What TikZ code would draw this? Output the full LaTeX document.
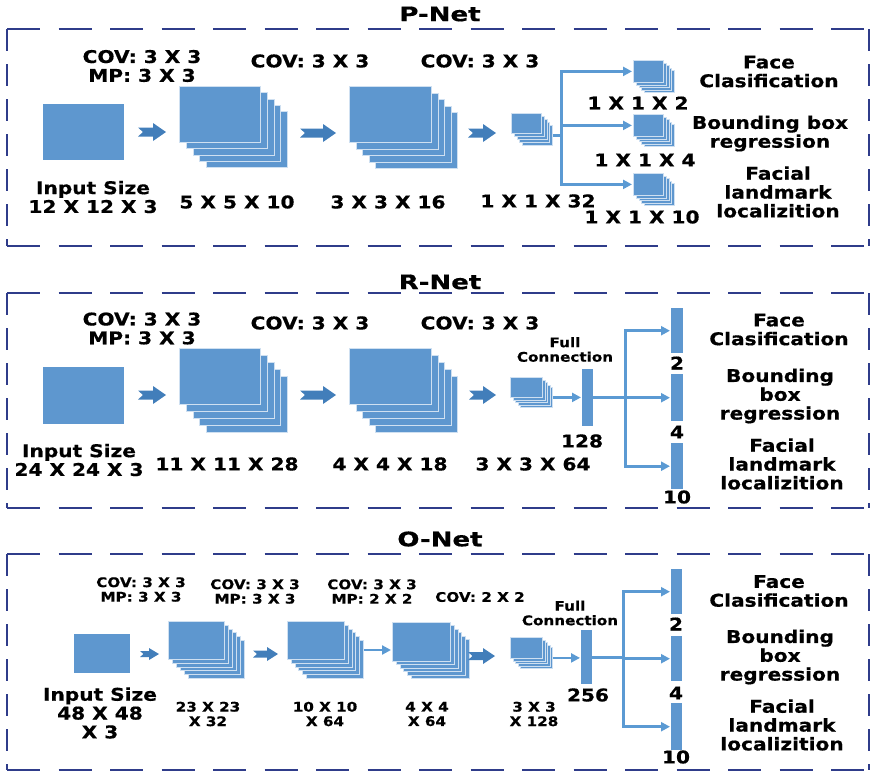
\documentclass[tikz,border=0pt]{standalone}
\usepackage{fontspec}
\setmainfont{DejaVu Sans}[FakeStretch=1.15, BoldFeatures={FakeBold=0.6}]
\newfontfamily\titlefont{DejaVu Sans}[FakeStretch=1.3, BoldFeatures={FakeBold=0.6}]
\usetikzlibrary{arrows.meta}
\definecolor{boxblue}{HTML}{5E97CF}
\definecolor{chevblue}{HTML}{427EBA}
\definecolor{lineblue}{HTML}{5B9AD3}
\definecolor{framecol}{HTML}{2F3C8A}

\tikzset{
  layer/.style={fill=boxblue, draw=white!70!boxblue, line width=0.8pt, inner sep=0pt, anchor=north west},
  solid block/.style={fill=boxblue, inner sep=0pt, anchor=north west},
  ttl/.style={font=\titlefont\fontsize{20}{22}\selectfont\bfseries, inner sep=0pt},
  lab/.style={font=\fontsize{17.5}{18.8}\selectfont\bfseries, align=center, inner sep=0pt},
  sml/.style={font=\fontsize{13.2}{14.5}\selectfont\bfseries, align=center, inner sep=0pt},
  conn/.style={draw=lineblue, line width=2.8pt},
  arr/.style={conn, -{Triangle[length=9pt,width=9pt]}, shorten >=1pt},
  hdash/.style={draw=framecol, line width=1.8pt, dash pattern=on 33pt off 18.5pt},
  vdash/.style={draw=framecol, line width=1.8pt, dash pattern=on 22pt off 13pt},
}

% stack of feature maps: name, x, y, width, height, layers behind, dx, dy
\newcommand\fmaps[8]{%
  \foreach \i in {#6,...,1}{%
    \node[layer, minimum width=#4pt, minimum height=#5pt] (#1-\i) at ({#2+\i*#7},{#3+\i*#8}) {};}
  \node[layer, minimum width=#4pt, minimum height=#5pt] (#1) at (#2,#3) {};}

% notched block arrow: x-from, x-to, y, head length, head half-height, body half-height, notch
\newcommand\chev[7]{%
  \fill[chevblue] (#1,{#3-#6}) -- ({#2-#4},{#3-#6}) -- ({#2-#4},{#3-#5}) -- (#2,#3)
    -- ({#2-#4},{#3+#5}) -- ({#2-#4},{#3+#6}) -- (#1,{#3+#6}) -- ({#1+#7},#3) -- cycle;}

% dashed frame: left, top, right, bottom
\newcommand\netframe[4]{%
  \draw[hdash] (#1,#2) -- (#3,#2);
  \draw[hdash] (#1,#4) -- (#3,#4);
  \draw[vdash] (#1,#2) -- (#1,#4);
  \draw[vdash] (#3,#2) -- (#3,#4);}

\begin{document}
\begin{tikzpicture}[x=1pt,y=-1pt]
\useasboundingbox (0,0) rectangle (873,772);

% ================= P-Net =================
\node[ttl] (ptitle) at (440,14) {P-Net};
\netframe{7}{29}{869}{246}

\node[solid block, minimum width=81pt, minimum height=56pt] (pin) at (43,104) {};
\fmaps{p1}{179}{86}{81}{56}{4}{6.75}{6.25}
\fmaps{p2}{349}{86}{82}{56}{4}{6.5}{6.5}
\fmaps{ps}{511}{113}{30}{20}{4}{2.75}{3}
\fmaps{po1}{633}{60}{30}{22}{4}{2.75}{2.5}
\fmaps{po2}{633}{114}{30}{22}{4}{2.75}{2.5}
\fmaps{po3}{633}{173}{30}{22}{4}{2.75}{2.5}

\chev{138}{166}{132}{13}{9}{4.5}{5}
\chev{300}{336}{133}{13}{9}{4.5}{5}
\chev{468}{496}{133}{13}{9}{4.5}{5}

\draw[conn] (ps-4.east) -- ++(9,0) coordinate (pj);
\draw[arr] (pj) |- (po1.west);
\draw[arr] (pj) |- (po2.west);
\draw[arr] (pj) |- (po3.west);

\node[lab] (pk1) at (142,66) {COV: 3 X 3\\MP: 3 X 3};
\node[lab] (pk2) at (310,61) {COV: 3 X 3};
\node[lab] (pk3) at (480,61) {COV: 3 X 3};
\node[lab] (psz0) at (93,197) {Input Size\\12 X 12 X 3};
\node[lab] (psz1) at (237,202) {5 X 5 X 10};
\node[lab] (psz2) at (388,202) {3 X 3 X 16};
\node[lab] (psz3) at (538,201) {1 X 1 X 32};
\node[lab] (pos1) at (638,103) {1 X 1 X 2};
\node[lab] (pos2) at (645,160) {1 X 1 X 4};
\node[lab] (pos3) at (642,217) {1 X 1 X 10};
\node[lab] (pt1) at (769,71.5) {Face\\Clasification};
\node[lab] (pt2) at (770,133.5) {Bounding box\\regression};
\node[lab] (pt3) at (778,192) {Facial\\landmark\\localizition};

% ================= R-Net =================
\node[ttl] (rtitle) at (440,282) {R-Net};
\netframe{7}{293}{869}{508}

\node[solid block, minimum width=81pt, minimum height=57pt] (rin) at (43,367) {};
\fmaps{r1}{179}{348}{81}{56}{4}{6.75}{7}
\fmaps{r2}{349}{348}{82}{56}{4}{6.5}{7}
\fmaps{rs}{510}{377}{32}{20}{4}{2.5}{2.5}
\node[solid block, minimum width=11pt, minimum height=57pt] (rfc) at (582,369) {};
\node[solid block, minimum width=12pt, minimum height=45pt] (rb1) at (671,308) {};
\node[solid block, minimum width=12pt, minimum height=47pt] (rb2) at (671,374) {};
\node[solid block, minimum width=12pt, minimum height=46pt] (rb3) at (671,443) {};

\chev{138}{166}{395}{13}{9}{4.5}{5}
\chev{300}{336}{395}{13}{9}{4.5}{5}
\chev{469}{496}{395}{13}{9}{4.5}{5}

\draw[arr] (rs-4.east) -- (rs-4.east -| rfc.west);
\draw[conn] (rfc.east) -- ++(32,0) coordinate (rj);
\draw[arr] (rj) |- (rb1.west);
\draw[arr] (rj) |- (rb2.west);
\draw[arr] (rj) |- (rb3.west);

\node[lab] (rk1) at (142,328.5) {COV: 3 X 3\\MP: 3 X 3};
\node[lab] (rk2) at (310,323) {COV: 3 X 3};
\node[lab] (rk3) at (480,323) {COV: 3 X 3};
\node[sml] (rfct) at (565,349.5) {Full\\Connection};
\node[lab] (rsz0) at (79,460) {Input Size\\24 X 24 X 3};
\node[lab] (rsz1) at (227,464) {11 X 11 X 28};
\node[lab] (rsz2) at (390,464) {4 X 4 X 18};
\node[lab] (rsz3) at (533,464) {3 X 3 X 64};
\node[lab] (rn0) at (582,441) {128};
\node[lab] (rn1) at (677,363) {2};
\node[lab] (rn2) at (677,432) {4};
\node[lab] (rn3) at (677,497) {10};
\node[lab] (rt1) at (779,329.5) {Face\\Clasification};
\node[lab] (rt2) at (780,396) {Bounding\\box\\regression};
\node[lab] (rt3) at (782,464) {Facial\\landmark\\localizition};

% ================= O-Net =================
\node[ttl] (otitle) at (440,539) {O-Net};
\netframe{7}{554}{869}{770}

\node[solid block, minimum width=56pt, minimum height=39pt] (oin) at (74,634) {};
\fmaps{o1}{168}{621}{56}{38}{5}{4}{3.8}
\fmaps{o2}{287}{621}{57}{38}{5}{3.8}{3.8}
\fmaps{o3}{392}{622}{58}{39}{5}{3.8}{3.4}
\fmaps{os}{510}{637}{32}{21}{4}{2.5}{2.5}
\node[solid block, minimum width=11pt, minimum height=54pt] (ofc) at (581,630) {};
\node[solid block, minimum width=11pt, minimum height=45pt] (ob1) at (671,569) {};
\node[solid block, minimum width=11pt, minimum height=45pt] (ob2) at (671,636) {};
\node[solid block, minimum width=11pt, minimum height=47pt] (ob3) at (671,703) {};

\chev{140}{159}{654}{10}{6}{3}{3.5}
\chev{253}{278}{654}{11}{7}{3.5}{4}
\chev{468}{495}{656}{12}{8}{4}{4.5}

\coordinate (oy) at (0,650);
\draw[arr, line width=2.4pt] (o2-5.east |- oy) -- (o3.west |- oy);
\draw[arr] (os-4.east) -- (os-4.east -| ofc.west);
\draw[conn] (ofc.east) -- ++(31,0) coordinate (oj);
\draw[arr] (oj) |- (ob1.west);
\draw[arr] (oj) |- (ob2.west);
\draw[arr] (oj) |- (ob3.west);

\node[sml] (ok1) at (141,589.5) {COV: 3 X 3\\MP: 3 X 3};
\node[sml] (ok2) at (255,591.5) {COV: 3 X 3\\MP: 3 X 3};
\node[sml] (ok3) at (372,591.5) {COV: 3 X 3\\MP: 2 X 2};
\node[sml] (ok4) at (480,597) {COV: 2 X 2};
\node[sml] (ofct) at (570,613) {Full\\Connection};
\node[lab] (osz0) at (100,713) {Input Size\\48 X 48\\X 3};
\node[sml] (osz1) at (208,714) {23 X 23\\X 32};
\node[sml] (osz2) at (325,714) {10 X 10\\X 64};
\node[sml] (osz3) at (427,714) {4 X 4\\X 64};
\node[sml] (osz4) at (534,714) {3 X 3\\X 128};
\node[lab] (on0) at (588,695) {256};
\node[lab] (on1) at (676,624) {2};
\node[lab] (on2) at (676,693) {4};
\node[lab] (on3) at (676,757) {10};
\node[lab] (ot1) at (779,591) {Face\\Clasification};
\node[lab] (ot2) at (780,657) {Bounding\\box\\regression};
\node[lab] (ot3) at (782,725) {Facial\\landmark\\localizition};
\end{tikzpicture}
\end{document}
